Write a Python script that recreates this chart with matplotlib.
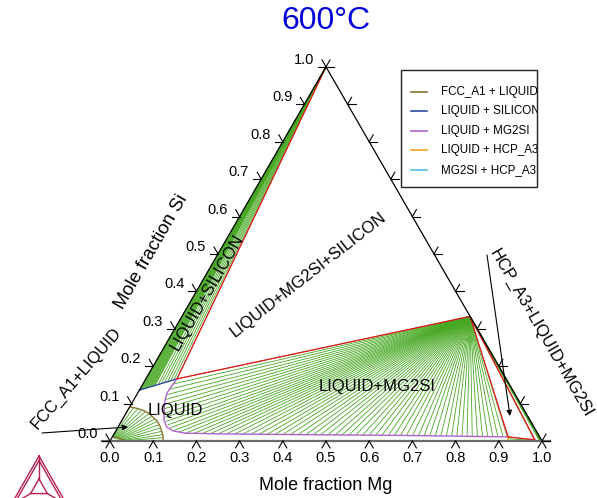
import numpy as np
import matplotlib
matplotlib.use('Agg')
import matplotlib.pyplot as plt
from matplotlib.collections import LineCollection
from matplotlib.patches import Rectangle

plt.rcParams['font.family'] = ['Liberation Sans', 'DejaVu Sans']

tick_vals = [0.0, 0.1, 0.2, 0.3, 0.4, 0.5, 0.6, 0.7, 0.8, 0.9, 1.0]
tick_labels = ['0.0', '0.1', '0.2', '0.3', '0.4', '0.5', '0.6', '0.7', '0.8', '0.9', '1.0']

# compositions are (mole fraction Mg, mole fraction Si)
liq_3ph_si = [0.072, 0.166]     # LIQUID corner of LIQUID+MG2SI+SILICON
mg2si_pt = [0.667, 0.333]
si_pt = [0.0, 1.0]
liq_3ph_hcp = [0.916, 0.011]    # LIQUID corner of HCP_A3+LIQUID+MG2SI
hcp_3ph = [0.982, 0.003]        # HCP_A3 corner

# LIQUID + SILICON tie lines (liquid end, other end is pure Si)
ls_mg = [0.000, 0.002, 0.004, 0.006, 0.008, 0.010, 0.012, 0.014, 0.016, 0.018,
         0.020, 0.022, 0.024, 0.026, 0.028, 0.030, 0.036, 0.042, 0.048, 0.054,
         0.060, 0.066, 0.072]
ls_si = [0.136, 0.137, 0.138, 0.1385, 0.139, 0.140, 0.141, 0.1415, 0.142, 0.143,
         0.144, 0.145, 0.146, 0.1465, 0.147, 0.148, 0.151, 0.153, 0.156, 0.158,
         0.161, 0.164, 0.166]

# LIQUID + MG2SI tie lines (liquid end, other end is Mg2Si)
lm_mg = [0.072, 0.069, 0.068, 0.070, 0.073, 0.077, 0.082, 0.088, 0.095, 0.103,
         0.112, 0.122, 0.134, 0.148, 0.165, 0.184,
         0.203, 0.222, 0.241, 0.260, 0.279, 0.298, 0.317, 0.336, 0.355, 0.373,
         0.391, 0.409, 0.427, 0.445, 0.462, 0.479, 0.496, 0.513, 0.529, 0.545,
         0.561, 0.577, 0.592, 0.607, 0.622, 0.637, 0.651, 0.665, 0.679, 0.693,
         0.707, 0.720, 0.733, 0.746, 0.759, 0.772, 0.784, 0.796, 0.808, 0.820,
         0.832, 0.844, 0.856, 0.868, 0.880, 0.892, 0.904, 0.914]
lm_si = [0.166, 0.152, 0.138, 0.124, 0.111, 0.098, 0.086, 0.074, 0.063, 0.052,
         0.043, 0.035, 0.028, 0.024, 0.021, 0.020,
         0.0195, 0.0192, 0.0190, 0.0188, 0.0186, 0.0184, 0.0182, 0.0180, 0.0178, 0.0176,
         0.0174, 0.0172, 0.0170, 0.0168, 0.0166, 0.0164, 0.0162, 0.0160, 0.0158, 0.0156,
         0.0154, 0.0152, 0.0150, 0.0149, 0.0148, 0.0147, 0.0146, 0.0145, 0.0144, 0.0143,
         0.0142, 0.0141, 0.0140, 0.0139, 0.0138, 0.0137, 0.0136, 0.0135, 0.0134, 0.0132,
         0.0130, 0.0128, 0.0126, 0.0124, 0.0121, 0.0118, 0.0114, 0.0110]

# FCC_A1 + LIQUID tie lines
fl_liq_mg = [0.000, 0.010, 0.021, 0.032, 0.043, 0.054, 0.064, 0.074, 0.083, 0.092, 0.100, 0.107, 0.113, 0.118]
fl_liq_si = [0.091, 0.089, 0.086, 0.083, 0.079, 0.073, 0.066, 0.059, 0.052, 0.044, 0.035, 0.026, 0.017, 0.009]
fl_fcc_mg = [0.000, 0.001, 0.002, 0.004, 0.006, 0.008, 0.010, 0.013, 0.016, 0.019, 0.022, 0.026, 0.030, 0.034]
fl_fcc_si = [0.011, 0.010, 0.009, 0.008, 0.007, 0.0065, 0.006, 0.005, 0.0045, 0.004, 0.003, 0.002, 0.001, 0.0005]

# MG2SI + HCP_A3 tie lines (HCP end)
mh_mg = [0.982, 0.994, 0.997, 0.999, 1.000]
mh_si = [0.003, 0.001, 0.0005, 0.0002, 0.000]

# LIQUID + HCP_A3 tie lines
lh_liq_mg = [0.916, 0.918, 0.920]
lh_liq_si = [0.011, 0.006, 0.002]
lh_hcp_mg = [0.982, 0.980, 0.978]
lh_hcp_si = [0.003, 0.0015, 0.000]

# phase boundaries
fcc_liq_mg = [0.000, 0.016, 0.033, 0.051, 0.0675, 0.082, 0.0957, 0.108, 0.116, 0.123]
fcc_liq_si = [0.091, 0.088, 0.083, 0.075, 0.064, 0.0535, 0.040, 0.024, 0.0134, 0.0]
fcc_sol_mg = [0.000, 0.015, 0.030, 0.036]
fcc_sol_si = [0.012, 0.008, 0.003, 0.000]
si_liq_mg = [0.000, 0.072]
si_liq_si = [0.136, 0.166]
mg2si_liq_mg = [0.072, 0.069, 0.068, 0.070, 0.076, 0.084, 0.097, 0.113, 0.133, 0.163, 0.245, 0.431, 0.664, 0.916]
mg2si_liq_si = [0.166, 0.144, 0.130, 0.118, 0.100, 0.083, 0.056, 0.037, 0.027, 0.021, 0.019, 0.017, 0.015, 0.011]
hcp_liq_mg = [0.916, 0.921]
hcp_liq_si = [0.011, 0.000]
hcp_sol_mg = [0.982, 0.978]
hcp_sol_si = [0.003, 0.000]

GREEN = '#47a822'
RED = '#e8141c'
C_FCC = '#8a7530'
C_SI = '#2e4a9e'
C_MG2SI = '#b060d0'
C_HCP = '#f5a623'
C_MGHCP = '#4fc1e9'

s3 = np.sqrt(3) / 2


def tern(mg, si):
    mg = np.asarray(mg, dtype=float)
    si = np.asarray(si, dtype=float)
    return mg + si / 2, si * s3


def px(x, y):
    # pixel position of the picture -> axes data coords
    return (x - 110) / 432, (441 - y) / 432


fig = plt.figure(figsize=(5.97, 4.98), dpi=100)
ax = fig.add_axes([0, 0, 1, 1])
ax.set_xlim(px(0, 0)[0], px(597, 0)[0])
ax.set_ylim(px(0, 498)[1], px(0, 0)[1])
ax.axis('off')


def ties(mg1, si1, mg2, si2, color=GREEN, lw=0.6):
    x1, y1 = tern(mg1, si1)
    x2, y2 = tern(mg2, si2)
    x1, y1, x2, y2 = np.broadcast_arrays(x1, y1, x2, y2)
    segs = np.stack([np.column_stack([x1, y1]), np.column_stack([x2, y2])], axis=1)
    ax.add_collection(LineCollection(segs, colors=color, linewidths=lw))


def bline(mg, si, color, lw=1.0):
    x, y = tern(mg, si)
    ax.plot(x, y, color=color, lw=lw)


# tie lines
ties(ls_mg, ls_si, si_pt[0], si_pt[1])
ties(lm_mg, lm_si, mg2si_pt[0], mg2si_pt[1])
ties(fl_liq_mg, fl_liq_si, fl_fcc_mg, fl_fcc_si)
ties(mh_mg, mh_si, mg2si_pt[0], mg2si_pt[1], lw=0.9)
ties(lh_liq_mg, lh_liq_si, lh_hcp_mg, lh_hcp_si)

# phase boundaries
bline(fcc_liq_mg, fcc_liq_si, C_FCC)
bline(fcc_sol_mg, fcc_sol_si, C_FCC)
bline(si_liq_mg, si_liq_si, C_SI)
bline(mg2si_liq_mg, mg2si_liq_si, C_MG2SI)
bline(hcp_liq_mg, hcp_liq_si, C_HCP)
bline(hcp_sol_mg, hcp_sol_si, C_MGHCP)

# three-phase triangles
for a, b in [(liq_3ph_si, si_pt), (liq_3ph_si, mg2si_pt), (mg2si_pt, liq_3ph_hcp),
             (mg2si_pt, hcp_3ph), (liq_3ph_hcp, hcp_3ph)]:
    bline([a[0], b[0]], [a[1], b[1]], RED, lw=0.9)

# triangle frame
bline([0, 0], [0, 1], 'k', lw=0.9)
bline([0, 1], [1, 0], 'k', lw=0.9)
ax.plot([px(102, 0)[0], px(550, 0)[0]], [0, 0], color='#6a6a6a', lw=1.6)

# ternary ticks
L = 8 / 432
for v, lab in zip(tick_vals, tick_labels):
    x, y = tern(v, 0)
    for dx, dy in [(-0.5, -s3), (0.5, -s3)]:
        ax.plot([x, x + L * dx], [y, y + L * dy], color='k', lw=0.8)
    ax.text(x, px(0, 458)[1], lab, ha='center', va='center', fontsize=10.5)
    x, y = tern(0, v)
    for dx, dy in [(-1, 0), (-0.5, s3)]:
        ax.plot([x, x + L * dx], [y, y + L * dy], color='k', lw=0.8)
    ax.text(x - 12 / 432, y + 7 / 432, lab, ha='right', va='center', fontsize=10.5)
    x, y = tern(1 - v, v)
    for dx, dy in [(1, 0), (0.5, s3)]:
        ax.plot([x, x + L * dx], [y, y + L * dy], color='k', lw=0.8)

# titles and labels
ax.text(*px(326, 21), '600°C', color='#0000dd', fontsize=23, ha='center', va='center')
ax.text(*px(326, 485), 'Mole fraction Mg', fontsize=13, ha='center', va='center')
ax.text(*px(151, 252), 'Mole fraction Si', fontsize=13.5, ha='center', va='center', rotation=60)

ax.text(*px(175, 411), 'LIQUID', fontsize=12, ha='center', va='center')
ax.text(*px(377, 386), 'LIQUID+MG2SI', fontsize=12, ha='center', va='center')
ax.text(*px(308, 275), 'LIQUID+MG2SI+SILICON', fontsize=12, ha='center', va='center', rotation=38)
ax.text(*px(207, 292), 'LIQUID+SILICON', fontsize=12, ha='center', va='center', rotation=60)
ax.text(*px(76, 378), 'FCC_A1+LIQUID', fontsize=12, ha='center', va='center', rotation=49)
ax.text(*px(541, 333), 'HCP_A3+LIQUID+MG2SI', fontsize=12, ha='center', va='center', rotation=-60)

arrow = dict(arrowstyle='-|>', color='k', lw=0.8, mutation_scale=8, shrinkA=0, shrinkB=0)
ax.annotate('', xy=px(128, 427), xytext=px(42, 433), arrowprops=arrow)
ax.annotate('', xy=px(510, 416), xytext=px(487, 255), arrowprops=arrow)

# legend box (text is cut by the box edge as in the original)
legend_labels = ['FCC_A1 + LIQUID', 'LIQUID + SILICON', 'LIQUID + MG2SI', 'LIQUID + HCP_A3', 'MG2SI + HCP_A3']
legend_colors = [C_FCC, C_SI, C_MG2SI, C_HCP, C_MGHCP]
bx, by = px(401, 187)
box = Rectangle((bx, by), 136 / 432, 117 / 432, facecolor='white', edgecolor='#222222', lw=1.0, zorder=5)
ax.add_patch(box)
for i, (lab, c) in enumerate(zip(legend_labels, legend_colors)):
    yy = px(0, 92 + 19.5 * i)[1]
    ax.plot([px(411, 0)[0], px(427, 0)[0]], [yy, yy], color=c, lw=1.2, zorder=6)
    t = ax.text(px(441, 0)[0], yy, lab, fontsize=8.4, ha='left', va='center',
                zorder=6, clip_on=True)
    t.set_clip_path(box)

# logo in the corner
LOGO = '#b3204d'
A, B, C = np.array(px(39, 456)), np.array(px(11, 505)), np.array(px(67, 505))
G = (A + B + C) / 3
for k in [1.0, 0.86]:
    tri = np.array([G + k * (P - G) for P in (A, B, C, A)])
    ax.plot(tri[:, 0], tri[:, 1], color=LOGO, lw=1.0)
inner = [G + 0.3 * (P - G) for P in (A, B, C)]
tri = np.array(inner + [inner[0]])
ax.plot(tri[:, 0], tri[:, 1], color=LOGO, lw=1.0)
for P, Q in zip((A, B, C), inner):
    ax.plot([P[0], Q[0]], [P[1], Q[1]], color=LOGO, lw=1.0)

fig.savefig('out.png', dpi=100)
